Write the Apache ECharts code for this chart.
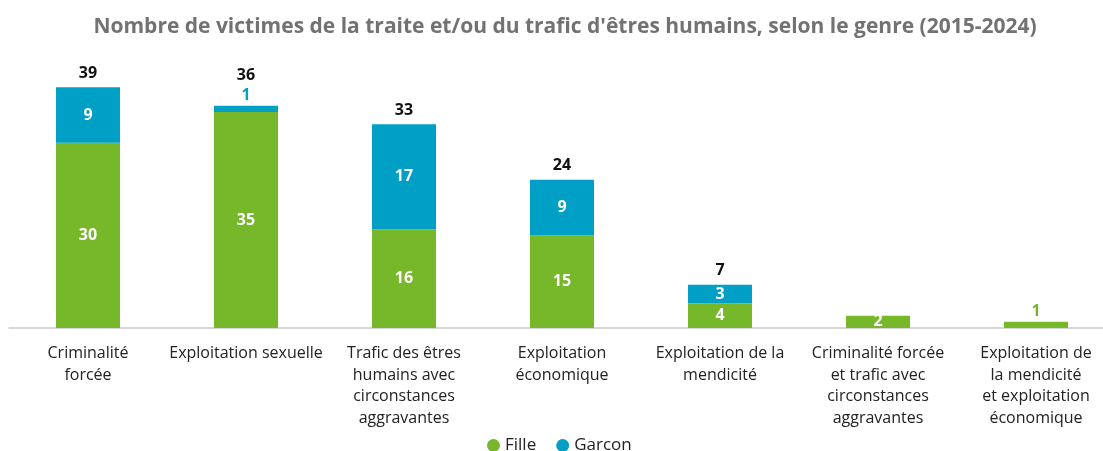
<!DOCTYPE html>
<html>
<head>
<meta charset="utf-8">
<script src="https://cdn.jsdelivr.net/npm/echarts@6/dist/echarts.min.js"></script>
<style>
  html, body { margin: 0; padding: 0; background: #fff; }
  #chart { width: 1103px; height: 451px; }
</style>
</head>
<body>
<div id="chart"></div>
<script>
const categories = [
  'Criminalité\nforcée',
  'Exploitation sexuelle',
  'Trafic des êtres\nhumains avec\ncirconstances\naggravantes',
  'Exploitation\néconomique',
  'Exploitation de la\nmendicité',
  'Criminalité forcée\net trafic avec\ncirconstances\naggravantes',
  'Exploitation de\nla mendicité\net exploitation\néconomique'
]
const fille = [30, 35, 16, 15, 4, 2, 1]
const garcon = [9, 1, 17, 9, 3, 0, 0]

const GREEN = '#76b82a'
const BLUE = '#009fc6'
const FONT = '"Open Sans", sans-serif'

// les petites valeurs (1) sont affichées au-dessus du segment, dans la couleur de la série
function segData(values, color) {
  return values.map(v => {
    if (v === 0) return { value: '-', label: { show: false } }
    if (v === 1) return { value: v, label: { position: 'top', color: color, distance: 2 } }
    return v
  })
}

const totals = fille.map((f, i) => f + garcon[i])
const totalData = totals.map((t, i) => ({
  value: 0,
  label: {
    show: garcon[i] > 0,
    formatter: String(t),
    distance: garcon[i] === 1 ? 22 : 6
  }
}))

const segLabel = { show: true, position: 'inside', color: '#fff', fontWeight: 'bold', fontSize: 16, fontFamily: FONT }

const chart = echarts.init(document.getElementById('chart'))
chart.setOption({
  animation: false,
  textStyle: { fontFamily: FONT },
  title: {
    text: "Nombre de victimes de la traite et/ou du trafic d'êtres humains, selon le genre (2015-2024)",
    left: 560,
    textAlign: 'center',
    top: 12,
    textStyle: { color: '#727272', fontSize: 21, fontWeight: 'bold', fontFamily: FONT }
  },
  legend: {
    data: ['Fille', 'Garcon'],
    top: 432,
    left: 482,
    icon: 'circle',
    itemWidth: 13,
    itemHeight: 13,
    itemGap: 20,
    textStyle: { fontSize: 17, color: '#222', fontFamily: FONT }
  },
  grid: { left: 9, width: 1106, top: 81, bottom: 123, containLabel: false, outerBoundsMode: 'none' },
  xAxis: {
    type: 'category',
    data: categories,
    axisLine: { lineStyle: { color: '#cccccc', width: 1.5 } },
    axisTick: { show: false },
    axisLabel: { interval: 0, color: '#222', fontSize: 16, lineHeight: 21.5, margin: 15, fontFamily: FONT }
  },
  yAxis: { type: 'value', min: 0, max: 40, show: false, splitLine: { show: false } },
  series: [
    {
      name: 'Fille',
      type: 'bar',
      stack: 'g',
      barWidth: 64,
      itemStyle: { color: GREEN },
      label: segLabel,
      data: segData(fille, GREEN)
    },
    {
      name: 'Garcon',
      type: 'bar',
      stack: 'g',
      barWidth: 64,
      itemStyle: { color: BLUE },
      label: segLabel,
      data: segData(garcon, BLUE)
    },
    {
      name: 'Total',
      type: 'bar',
      stack: 'g',
      barWidth: 64,
      itemStyle: { color: 'transparent' },
      label: { show: true, position: 'top', color: '#111', fontWeight: 'bold', fontSize: 16, fontFamily: FONT },
      data: totalData
    }
  ]
})
</script>
</body>
</html>
